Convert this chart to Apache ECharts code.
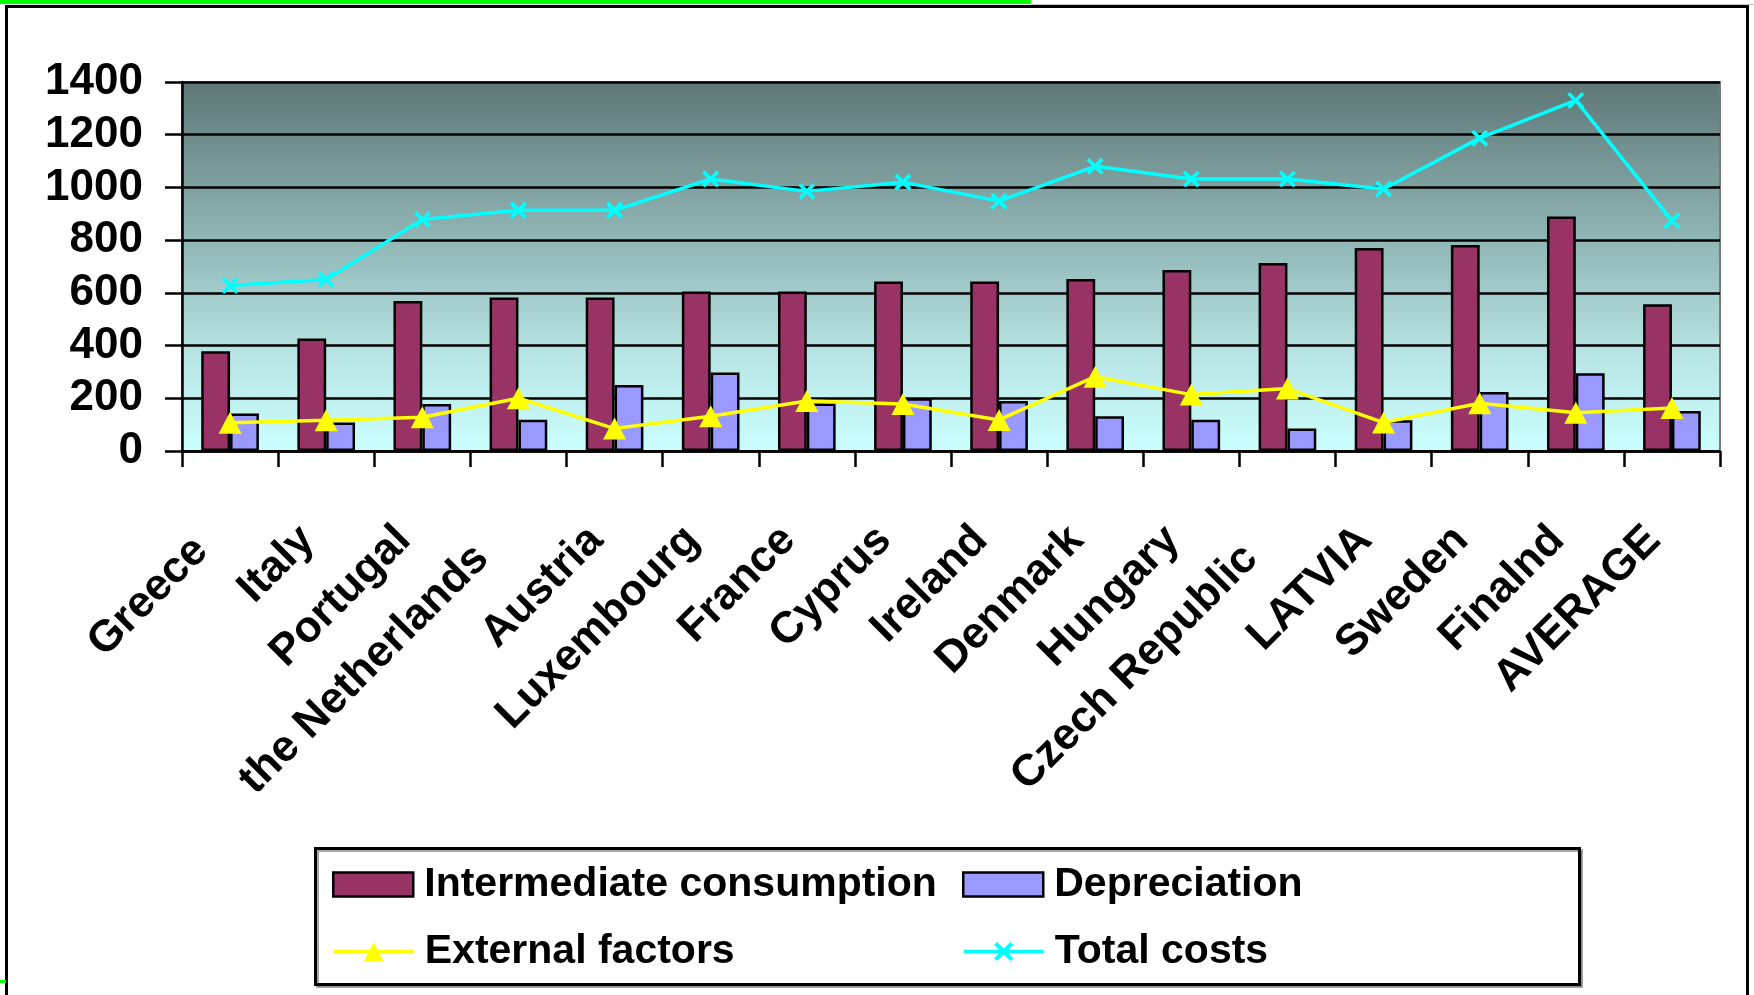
<!DOCTYPE html>
<html>
<head>
<meta charset="utf-8">
<script src="https://cdn.jsdelivr.net/npm/echarts@6/dist/echarts.min.js"></script>
<style>
  html, body { margin: 0; padding: 0; background: #fff; }
  #chart { width: 1754px; height: 995px; }
</style>
</head>
<body>
<div id="chart"></div>
<script>
// Cost components per country
const categories = ['Greece', 'Italy', 'Portugal', 'the Netherlands', 'Austria', 'Luxembourg', 'France', 'Cyprus',
  'Ireland', 'Denmark', 'Hungary', 'Czech Republic', 'LATVIA', 'Sweden', 'Finalnd', 'AVERAGE'];
const intermediateConsumption = [378, 427, 569, 582, 582, 605, 605, 643, 643, 653, 687, 713, 770, 782, 890, 557];
const depreciation = [142, 108, 178, 119, 250, 298, 180, 200, 190, 132, 119, 85, 117, 224, 295, 152];
const externalFactors = [107, 117, 128, 200, 85, 132, 190, 178, 118, 282, 214, 237, 108, 181, 145, 163];
const totalCosts = [628, 651, 878, 913, 913, 1032, 985, 1020, 948, 1080, 1032, 1032, 994, 1187, 1330, 874];
const yAxisMin = 0;
const yAxisMax = 1400;
const yAxisStep = 200;

const FONT = 'Liberation Sans, Arial, sans-serif';
const crossPath = 'path://M0,1.5L1.5,0L5,3.5L8.5,0L10,1.5L6.5,5L10,8.5L8.5,10L5,6.5L1.5,10L0,8.5L3.5,5Z';

// A few category names sit a little further down their slope
const labelSlide = { 'Greece': 41, 'the Netherlands': 52, 'Czech Republic': 52 };
const axisCategories = categories.map(function (name) {
  return labelSlide[name]
    ? { value: name, textStyle: { padding: [0, labelSlide[name], 0, 0] } }
    : name;
});

const chart = echarts.init(document.getElementById('chart'), null, { renderer: 'canvas' });

function legendAt(name, left, top, isLine) {
  const cfg = {
    data: [name],
    left: left,
    top: top,
    orient: 'horizontal',
    padding: 0,
    itemWidth: 80,
    itemHeight: 24,
    selectedMode: false,
    textStyle: {
      fontFamily: FONT, fontSize: 41, fontWeight: 'bold', color: '#000',
      lineHeight: 24, padding: [0, 0, 0, 6]
    }
  };
  if (isLine) {
    cfg.lineStyle = { width: 3.5 };
  } else {
    cfg.icon = 'rect';
    cfg.itemStyle = { borderColor: '#000', borderWidth: 2.5 };
  }
  return cfg;
}

const option = {
  animation: false,
  backgroundColor: '#fff',
  graphic: [
    { type: 'rect', shape: { x: 0, y: 0, width: 1031, height: 4 }, style: { fill: '#00ff00' }, z: 10 },
    { type: 'rect', shape: { x: 1031, y: 4, width: 723, height: 1 }, style: { fill: '#c8c8c8' }, z: 10 },
    { type: 'rect', shape: { x: 6.5, y: 6.5, width: 1741, height: 1010 }, style: { fill: 'none', stroke: '#000', lineWidth: 3 }, z: 10 },
    { type: 'rect', shape: { x: 0, y: 980, width: 6, height: 3 }, style: { fill: '#00ff00' }, z: 11 },
    {
      type: 'rect', shape: { x: 315.5, y: 848.5, width: 1264, height: 136 },
      style: { fill: '#fff', stroke: '#000', lineWidth: 3, shadowColor: 'rgba(0,0,0,0.35)', shadowOffsetX: 2, shadowOffsetY: 2 },
      z: 0
    }
  ],
  legend: [
    legendAt('Intermediate consumption', 332, 864, false),
    legendAt('Depreciation', 962, 864, false),
    legendAt('External factors', 332, 931, true),
    legendAt('Total costs', 962, 931, true)
  ],
  grid: {
    left: 182, top: 82, width: 1538, height: 369,
    show: true,
    borderColor: '#7a7a7a', borderWidth: 2,
    backgroundColor: {
      type: 'linear', x: 0, y: 0, x2: 0, y2: 1,
      colorStops: [
        { offset: 0, color: '#5e7676' },
        { offset: 0.45, color: '#93b9b9' },
        { offset: 0.75, color: '#b9e6e6' },
        { offset: 1, color: '#cbffff' }
      ]
    }
  },
  xAxis: {
    type: 'category',
    data: axisCategories,
    boundaryGap: true,
    axisLine: { lineStyle: { color: '#000', width: 2.5 } },
    axisTick: { show: true, inside: false, length: 16, lineStyle: { color: '#000', width: 2.5 } },
    axisLabel: {
      interval: 0, rotate: 45, margin: 64, padding: [0, 26, 0, 0],
      fontFamily: FONT, fontSize: 44, fontWeight: 'bold', color: '#000'
    },
    splitLine: { show: false }
  },
  yAxis: {
    type: 'value',
    min: yAxisMin, max: yAxisMax, interval: yAxisStep,
    axisLine: { show: true, lineStyle: { color: '#000', width: 2.5 } },
    axisTick: { show: true, inside: false, length: 17, lineStyle: { color: '#000', width: 2.5 } },
    axisLabel: {
      margin: 39, fontFamily: FONT, fontSize: 44, fontWeight: 'bold', color: '#000',
      formatter: function (v) { return String(v); }
    },
    splitLine: { show: true, lineStyle: { color: '#000', width: 2.5 } }
  },
  series: [
    {
      name: 'Intermediate consumption', type: 'bar', data: intermediateConsumption,
      barGap: '0%', barCategoryGap: '40%',
      itemStyle: { color: '#993366', borderColor: '#000', borderWidth: 2.5 }
    },
    {
      name: 'Depreciation', type: 'bar', data: depreciation,
      itemStyle: { color: '#9999ff', borderColor: '#000', borderWidth: 2.5 }
    },
    {
      name: 'External factors', type: 'line', data: externalFactors,
      symbol: 'triangle', symbolSize: [23, 22], showSymbol: true,
      lineStyle: { color: '#ffff00', width: 3.5 },
      itemStyle: { color: '#ffff00', borderWidth: 0 },
      z: 4
    },
    {
      name: 'Total costs', type: 'line', data: totalCosts,
      symbol: crossPath, symbolSize: 17, showSymbol: true,
      lineStyle: { color: '#00ffff', width: 3.5 },
      itemStyle: { color: '#00ffff', borderWidth: 0 },
      z: 4
    }
  ]
};

chart.setOption(option);
</script>
</body>
</html>
